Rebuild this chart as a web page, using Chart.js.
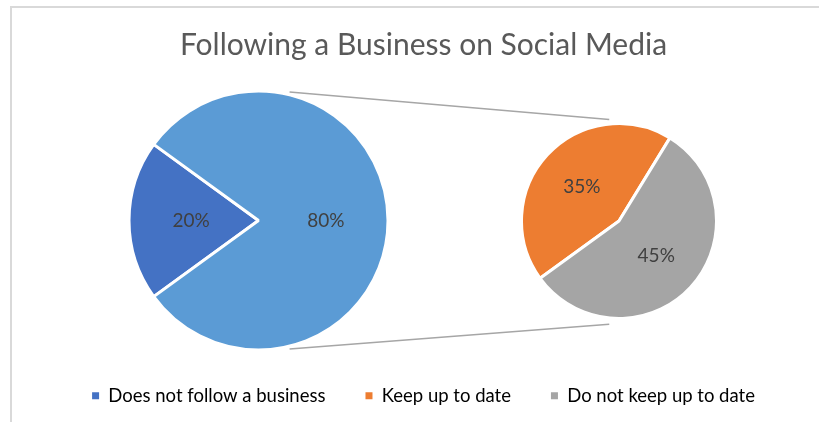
<!DOCTYPE html>
<html>
<head>
<meta charset="utf-8">
<script src="https://cdn.jsdelivr.net/npm/chart.js@4"></script>
<style>
  html, body { margin: 0; padding: 0; background: #fff; }
  #wrap { position: relative; width: 819px; height: 422px; overflow: hidden; }
  #mainPie { position: absolute; left: 0; top: 0; }
  #subPie { position: absolute; left: 519px; top: 121px; }
</style>
</head>
<body>
<div id="wrap">
  <canvas id="mainPie" width="819" height="422"></canvas>
  <canvas id="subPie" width="200" height="200"></canvas>
</div>
<script>
// Share of people who follow a business on social media (percent of all respondents)
const mainLabels = ['Does not follow a business', 'Follows a business'];
const mainValues = [20, 80];

// Breakdown of the followers, still as percent of all respondents
const followLabels = ['Keep up to date', 'Do not keep up to date'];
const followValues = [35, 45];

const legendLabels = ['Does not follow a business', 'Keep up to date', 'Do not keep up to date'];

const COLORS = {
  notFollow: '#4472C4',
  follow: '#5B9BD5',
  keep: '#ED7D31',
  notKeep: '#A5A5A5'
};
const legendColors = [COLORS.notFollow, COLORS.keep, COLORS.notKeep];

const FONT = 'Lato, "Open Sans", sans-serif';
const TEXT = '#595959';

// Percent labels placed part-way out along each slice's middle angle
const sliceLabels = {
  id: 'sliceLabels',
  afterDatasetsDraw(chart) {
    const ctx = chart.ctx;
    const meta = chart.getDatasetMeta(0);
    const values = chart.data.datasets[0].data;
    ctx.save();
    ctx.font = '19px ' + FONT;
    ctx.fillStyle = '#404040';
    ctx.textAlign = 'center';
    ctx.textBaseline = 'middle';
    meta.data.forEach((arc, i) => {
      const p = arc.getProps(['x', 'y', 'startAngle', 'endAngle', 'outerRadius'], true);
      const mid = (p.startAngle + p.endAngle) / 2;
      const r = p.outerRadius * 0.52;
      ctx.fillText(values[i] + '%', p.x + Math.cos(mid) * r, p.y + Math.sin(mid) * r);
    });
    ctx.restore();
  }
};

// Second pie: the followers split
const subCanvas = document.getElementById('subPie');
const subChart = new Chart(subCanvas, {
  type: 'pie',
  data: {
    labels: followLabels,
    datasets: [{
      data: followValues,
      backgroundColor: [COLORS.keep, COLORS.notKeep],
      borderColor: '#ffffff',
      borderWidth: 3,
      clip: false
    }]
  },
  options: {
    responsive: false,
    animation: false,
    events: [],
    rotation: 234,
    radius: 97.5,
    layout: { padding: 0 },
    plugins: { legend: { display: false }, title: { display: false }, tooltip: { enabled: false } }
  },
  plugins: [sliceLabels]
});

// Frame lines along the top and left edge
const frame = {
  id: 'frame',
  beforeDraw(chart) {
    const ctx = chart.ctx;
    ctx.save();
    ctx.fillStyle = '#ffffff';
    ctx.fillRect(0, 0, chart.width, chart.height);
    ctx.strokeStyle = '#d9d9d9';
    ctx.lineWidth = 2;
    ctx.beginPath();
    ctx.moveTo(11, chart.height);
    ctx.lineTo(11, 7);
    ctx.lineTo(chart.width, 7);
    ctx.stroke();
    ctx.restore();
  }
};

// Plot region of the first pie, on the left side of the frame
const leftArea = {
  id: 'leftArea',
  afterLayout(chart) {
    const a = chart.chartArea;
    a.left = 127.5; a.right = 389.5; a.top = 89.5; a.bottom = 351.5;
    a.width = a.right - a.left; a.height = a.bottom - a.top;
  }
};

// Lines joining the followers slice to the second pie
const connectors = {
  id: 'connectors',
  beforeDatasetsDraw(chart) {
    const a = chart.getDatasetMeta(0).data[0];
    const b = subChart.getDatasetMeta(0).data[0];
    if (!a || !b) return;
    const bx = subCanvas.offsetLeft + b.x;
    const by = subCanvas.offsetTop + b.y;
    const ra = a.outerRadius, rb = b.outerRadius;
    const ctx = chart.ctx;
    ctx.save();
    ctx.strokeStyle = '#a6a6a6';
    ctx.lineWidth = 1.5;
    ctx.beginPath();
    ctx.moveTo(a.x + ra * 0.24, a.y - ra + 1);
    ctx.lineTo(bx - rb * 0.1, by - rb * 1.04);
    ctx.moveTo(a.x + ra * 0.24, a.y + ra - 1);
    ctx.lineTo(bx - rb * 0.1, by + rb * 1.06);
    ctx.stroke();
    ctx.restore();
  }
};

const mainChart = new Chart(document.getElementById('mainPie'), {
  type: 'pie',
  data: {
    labels: mainLabels,
    datasets: [{
      data: mainValues,
      backgroundColor: [COLORS.notFollow, COLORS.follow],
      borderColor: '#ffffff',
      borderWidth: 3,
      clip: false
    }]
  },
  options: {
    responsive: false,
    animation: false,
    events: [],
    rotation: 234,
    layout: { padding: { left: 28, right: 0, top: 0, bottom: 7 } },
    plugins: {
      tooltip: { enabled: false },
      title: {
        display: true,
        text: 'Following a Business on Social Media',
        color: TEXT,
        font: { family: FONT, size: 30, weight: 'normal' },
        padding: { top: 27, bottom: 0 }
      },
      legend: {
        display: true,
        position: 'bottom',
        labels: {
          color: TEXT,
          font: { family: FONT, size: 18.5 },
          boxWidth: 7,
          boxHeight: 7,
          padding: 40,
          generateLabels: () => legendLabels.map((text, i) => ({
            text,
            fillStyle: legendColors[i],
            strokeStyle: legendColors[i],
            lineWidth: 0,
            hidden: false,
            index: i
          }))
        }
      }
    }
  },
  plugins: [frame, leftArea, connectors, sliceLabels]
});
</script>
</body>
</html>
